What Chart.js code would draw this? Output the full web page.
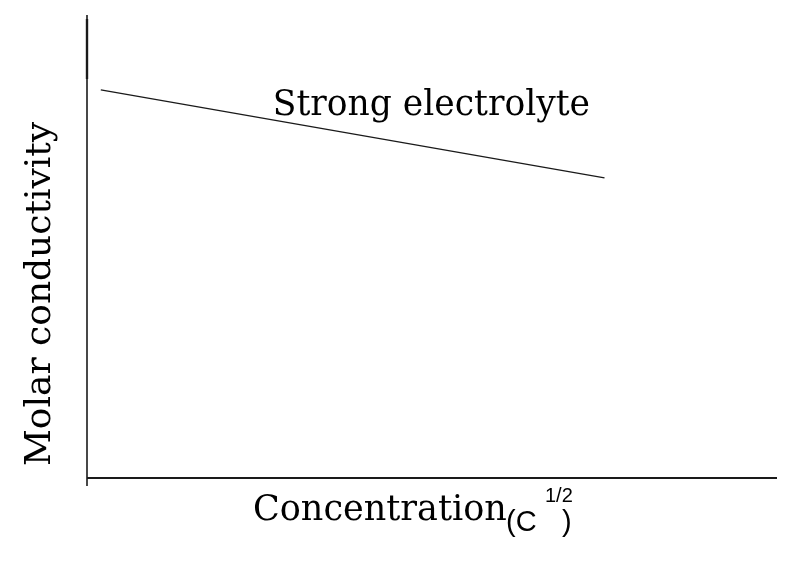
<!DOCTYPE html>
<html>
<head>
<meta charset="utf-8">
<title>Molar conductivity - strong electrolyte</title>
<script src="https://cdn.jsdelivr.net/npm/chart.js@4.4.1/dist/chart.umd.min.js"></script>
<style>
  html, body { margin: 0; padding: 0; background: #ffffff; }
</style>
</head>
<body>
<canvas id="condChart" width="797" height="587"></canvas>
<script>
//---------------------------------------Molar conductivity vs sqrt(C)---------------------------------------
// data (arbitrary units, axis runs 0..10 on both sides)
const concValues = [0.2, 7.5];
const condValues = [8.42, 6.51];
const seriesLabel = "Strong electrolyte";
const xTitle = "Concentration";
const yTitle = "Molar conductivity";

const points = concValues.map((c, i) => ({ x: c, y: condValues[i] }));

// draws axes + all the labels (the picture has no ticks or numbers)
const axesAndText = {
    id: "axesAndText",
    afterDraw(chart) {
        const ctx = chart.ctx;
        const a = chart.chartArea;
        ctx.save();
        ctx.strokeStyle = "#1a1a1a";
        ctx.lineCap = "butt";

        // y axis, runs a bit below the x axis
        ctx.lineWidth = 1.6;
        ctx.beginPath();
        ctx.moveTo(a.left, a.top - 2);
        ctx.lineTo(a.left, a.bottom + 8);
        ctx.stroke();
        // heavier stroke near the top of the y axis
        ctx.lineWidth = 2.4;
        ctx.beginPath();
        ctx.moveTo(a.left, a.top + 2);
        ctx.lineTo(a.left, a.top + 62);
        ctx.stroke();

        // x axis
        ctx.lineWidth = 2;
        ctx.beginPath();
        ctx.moveTo(a.left, a.bottom);
        ctx.lineTo(a.right, a.bottom);
        ctx.stroke();

        ctx.fillStyle = "#000000";
        ctx.textBaseline = "alphabetic";
        ctx.textAlign = "left";

        // series label, next to the line
        const ds = chart.getDatasetMeta(0).data;
        ctx.font = "34.5px 'DejaVu Serif'";
        ctx.fillText(seriesLabel, ds[0].x + 172, ds[0].y + 25);

        // x title with (C^1/2)
        ctx.font = "35px 'DejaVu Serif'";
        ctx.fillText(xTitle, 253, 520);
        ctx.font = "29px 'Liberation Sans'";
        ctx.fillText("(C", 506, 531);
        ctx.fillText(")", 562, 531);
        ctx.font = "20px 'Liberation Sans'";
        ctx.fillText("1/2", 545, 502);

        // y title, rotated
        ctx.translate(50, 294);
        ctx.rotate(-Math.PI / 2);
        ctx.textAlign = "center";
        ctx.font = "36px 'DejaVu Serif'";
        ctx.fillText(yTitle, 0, 0);
        ctx.restore();
    },
};

// setup
const data = {
    datasets: [
        {
            label: seriesLabel,
            data: points,
            borderColor: "#1a1a1a",
            backgroundColor: "#1a1a1a",
            borderWidth: 1.3,
            pointRadius: 0,
            tension: 0,
        },
    ],
};

//config
const config = {
    type: "line",
    data: data,
    options: {
        responsive: false,
        animation: false,
        layout: {
            padding: { left: 79, top: 17, right: 20, bottom: 101 },
        },
        scales: {
            x: {
                type: "linear",
                min: 0,
                max: 10,
                grid: { display: false },
                border: { display: false },
                ticks: { display: false },
            },
            y: {
                min: 0,
                max: 10,
                grid: { display: false },
                border: { display: false },
                ticks: { display: false },
            },
        },
        plugins: {
            legend: { display: false },
            tooltip: { enabled: false },
        },
    },
    plugins: [axesAndText],
};

//render init block
const condChart = new Chart(
    document.getElementById("condChart").getContext("2d"),
    config
);
</script>
</body>
</html>
